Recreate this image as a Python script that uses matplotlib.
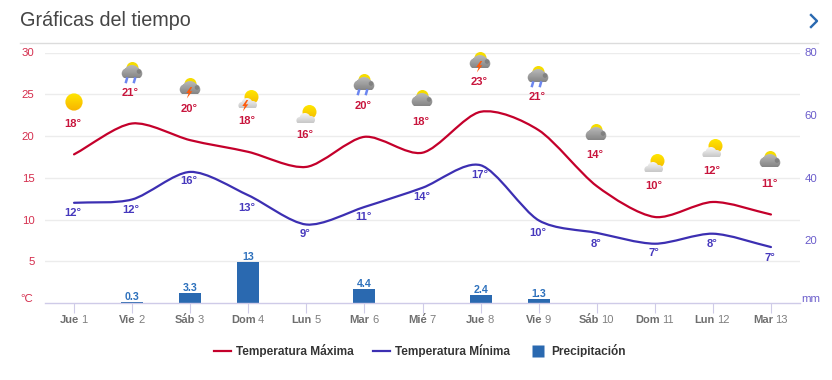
import matplotlib
matplotlib.use('Agg')
import matplotlib.pyplot as plt
from matplotlib.lines import Line2D
from matplotlib.patches import Circle, Ellipse, PathPatch, Polygon
from matplotlib.path import Path
import numpy as np

plt.rcParams['font.family'] = ['Liberation Sans', 'DejaVu Sans']
plt.rcParams['text.hinting'] = 'no_autohint'

# Data
days = ['Jue', 'Vie', 'Sáb', 'Dom', 'Lun', 'Mar', 'Mié', 'Jue', 'Vie', 'Sáb', 'Dom', 'Lun', 'Mar']
day_numbers = ['1', '2', '3', '4', '5', '6', '7', '8', '9', '10', '11', '12', '13']
temp_max = [17.8, 21.5, 19.5, 18.1, 16.3, 19.9, 18.0, 22.9, 20.7, 14.0, 10.3, 12.1, 10.6]
temp_min = [12.0, 12.4, 15.7, 12.9, 9.4, 11.5, 13.8, 16.5, 9.9, 8.4, 7.1, 8.3, 6.7]
label_max = [18, 21, 20, 18, 16, 20, 18, 23, 21, 14, 10, 12, 11]
label_min = [12, 12, 16, 13, 9, 11, 14, 17, 10, 8, 7, 8, 7]
precip = [0, 0.3, 3.3, 13, 0, 4.4, 0, 2.4, 1.3, 0, 0, 0, 0]
precip_labels = ['', '0.3', '3.3', '13', '', '4.4', '', '2.4', '1.3', '', '', '', '']
icons = ['sun', 'rain', 'storm', 'partly_storm', 'partly', 'rain', 'cloudy',
         'storm', 'rain', 'cloudy', 'partly', 'partly', 'cloudy']

# Layout, in pixels of the 832x380 picture
icon_y = [102, 72, 88, 100, 115, 84, 100, 62, 76, 134, 164, 149, 161]
max_label_y = [124, 93, 109, 121, 135, 106, 122, 82, 97, 155, 186, 171, 184]
min_label_y = [213, 210, 181, 208, 234, 217, 197, 175, 233, 244, 253, 244, 258]

RED = '#c4002b'
BLUE = '#3c2fb2'
BAR = '#2a69b0'

W, H = 832, 380
fig = plt.figure(figsize=(W / 100, H / 100), dpi=100)
ax = fig.add_axes([45 / W, 1 - 303 / H, 755 / W, 250.5 / H])
ax2 = ax.twinx()
# overlay in pixel coordinates for the title, rule and weather icons
ov = fig.add_axes([0, 0, 1, 1], zorder=5)
ov.set_xlim(0, W)
ov.set_ylim(H, 0)
ov.axis('off')
ov.patch.set_alpha(0)

x = np.arange(len(days))


def smooth_path(xs, ys):
    # cubic bezier through the points, tangents from the neighbours
    ys = np.array(ys, dtype=float)
    slope = np.gradient(ys, xs)
    h = 0.28
    verts = [(xs[0], ys[0])]
    codes = [Path.MOVETO]
    for i in range(len(xs) - 1):
        verts += [(xs[i] + h, ys[i] + slope[i] * h),
                  (xs[i + 1] - h, ys[i + 1] - slope[i + 1] * h),
                  (xs[i + 1], ys[i + 1])]
        codes += [Path.CURVE4] * 3
    return Path(verts, codes)


ax.add_patch(PathPatch(smooth_path(x, temp_max), fill=False, edgecolor=RED, linewidth=1.6, capstyle='round'))
ax.add_patch(PathPatch(smooth_path(x, temp_min), fill=False, edgecolor=BLUE, linewidth=1.6, capstyle='round'))

ax.set_xlim(-0.5, 12.5)
ax.set_ylim(0, 30)
ax.set_yticks([5, 10, 15, 20, 25, 30])
ax.tick_params(axis='y', length=0, pad=7.5, labelsize=8.2, labelcolor='#d5304f')
ax.grid(axis='y', color='#ececec', linewidth=1)
ax.set_axisbelow(True)
ax.set_xticks(x)
ax.set_xticklabels([])
ax.tick_params(axis='x', length=7, width=0.8, color='#cfcbe8')

ax2.set_ylim(0, 80)
ax2.set_yticks([20, 40, 60, 80])
ax2.tick_params(axis='y', length=0, pad=3.5, labelsize=8.2, labelcolor='#6a5ccb')
bars = ax2.bar(x, precip, width=0.38, color=BAR)
ax2.bar_label(bars, labels=precip_labels, padding=0, fontsize=7.7, fontweight='bold', color='#2f72bd')

for a in (ax, ax2):
    for s in a.spines.values():
        s.set_visible(False)
ax2.spines['bottom'].set_visible(True)
ax2.spines['bottom'].set_color('#cfcbe8')
ax2.spines['bottom'].set_linewidth(1.0)

ov.text(19.5, 21, 'Gráficas del tiempo', fontsize=14.3, color='#454545', va='center', ha='left')
ov.plot([20, 818], [42.5, 42.5], color='#dcdcdc', lw=1)
ov.plot([811, 817, 811], [15, 21, 27], color='#2a69b0', lw=1.7)
ov.text(33.5, 298.5, '°C', fontsize=8.2, color='#d5304f', ha='right', va='center')
ov.text(801, 299, 'mm', fontsize=8.2, color='#6a5ccb', ha='left', va='center')

renderer = fig.canvas.get_renderer()
for i in range(len(days)):
    px = 73.5 + i * 58.08
    a = ov.text(0, 323, days[i], fontsize=8, fontweight='bold', color='#6e6e6e', va='baseline')
    b = ov.text(0, 323, day_numbers[i], fontsize=8, color='#808080', va='baseline')
    wa = a.get_window_extent(renderer).width + 2.5
    wb = b.get_window_extent(renderer).width
    a.set_x(px - (wa + wb) / 2)
    b.set_x(px - (wa + wb) / 2 + wa)
    ov.text(px - 1, max_label_y[i], f'{label_max[i]}°', fontsize=8, fontweight='bold', color='#c8143c', ha='center', va='center')
    ov.text(px - 0.5, min_label_y[i], f'{label_min[i]}°', fontsize=8, fontweight='bold', color='#4638bd', ha='center', va='center')


def gradient_fill(path, top, bottom, box, z):
    # vertical colour gradient clipped to a shape, the box cuts the flat cloud bottoms
    c1 = np.array(matplotlib.colors.to_rgb(top))
    c2 = np.array(matplotlib.colors.to_rgb(bottom))
    t = np.linspace(0, 1, 24)[:, None, None]
    img = c1[None, None, :] * (1 - t) + c2[None, None, :] * t
    im = ov.imshow(img, extent=box, aspect='auto', zorder=z, interpolation='bilinear')
    patch = PathPatch(path, transform=ov.transData, fill=False, edgecolor='none')
    ov.add_patch(patch)
    im.set_clip_path(patch)


def cloud_path(cx, cy, circles):
    return Path.make_compound_path(*[Path.circle((cx + dx, cy + dy), r) for dx, dy, r in circles])


def bolt(cx, cy):
    pts = [(cx + 1.5, cy - 5), (cx - 2.7, cy + 1), (cx - 0.3, cy + 1), (cx - 2.2, cy + 6.5),
           (cx + 3.3, cy - 0.7), (cx + 0.7, cy - 0.7), (cx + 3.2, cy - 5)]
    ov.add_patch(Polygon(pts, closed=True, color='#ff5a0a', lw=0, zorder=9))


def draw_icon(kind, cx, cy):
    if kind == 'sun':
        gradient_fill(Path.circle((cx, cy), 8.6), '#ffe600', '#f8b400', (cx - 9, cx + 9, cy + 9, cy - 9), 6)
    elif kind in ('partly', 'partly_storm'):
        gradient_fill(Path.circle((cx + 3.5, cy - 3), 7), '#ffe600', '#f4b800', (cx - 4, cx + 11, cy + 5, cy - 10), 6)
        shape = cloud_path(cx, cy, [(-1, 3.5, 5.5), (-6, 5.5, 3.6), (5, 5, 4), (0, 5.5, 4)])
        gradient_fill(shape, '#ffffff', '#c8c8c8', (cx - 11, cx + 10, cy + 8.5, cy - 3), 7)
        if kind == 'partly_storm':
            bolt(cx - 3, cy + 5)
    else:
        ov.add_patch(Ellipse((cx + 0.5, cy - 4), 12, 12, color='#f5dc00', lw=0, zorder=6))
        shape = cloud_path(cx, cy, [(0, 1, 8), (-5, 1.5, 5.3), (5, 1.5, 5.3)])
        gradient_fill(shape, '#bcbcbc', '#868686', (cx - 11, cx + 11, cy + 6.3, cy - 7), 7)
        ov.add_patch(Circle((cx + 7, cy - 0.5), 2.3, color='#6e6e6e', alpha=0.6, lw=0, zorder=8))
        if kind == 'storm':
            bolt(cx - 1, cy + 4)
        if kind == 'rain':
            for dx in (-5, 3):
                ov.plot([cx + dx, cx + dx - 1], [cy + 6.5, cy + 10], color='#6c86f0', lw=1.8, zorder=8)


for i, kind in enumerate(icons):
    draw_icon(kind, 74 + i * 58.0, icon_y[i])
ov.set_xlim(0, W)
ov.set_ylim(H, 0)

handles = [Line2D([], [], color=RED, lw=1.6),
           Line2D([], [], color=BLUE, lw=1.6),
           Line2D([], [], color='none', marker='s', markersize=8.6, markerfacecolor=BAR, markeredgecolor='none')]
leg = fig.legend(handles, ['Temperatura Máxima', 'Temperatura Mínima', 'Precipitación'],
                 loc='center', bbox_to_anchor=(420 / W, 1 - 350.5 / H), ncol=3, frameon=False,
                 prop={'size': 8.6, 'weight': 'bold'}, handlelength=1.37, handletextpad=0.42, columnspacing=1.67)
for t in leg.get_texts():
    t.set_color('#333333')

fig.savefig('out.png', dpi=100)
